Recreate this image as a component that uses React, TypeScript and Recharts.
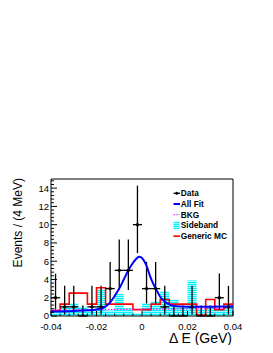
import React from "react";
import {
  ComposedChart,
  XAxis,
  YAxis,
  Line,
  Area,
  Scatter,
  ErrorBar,
  ReferenceArea,
  Customized,
} from "recharts";

// ---- data ----
const binWidth = 0.004;
const binCenters = [
  -0.038, -0.034, -0.03, -0.026, -0.022, -0.018, -0.014, -0.01, -0.006, -0.002,
  0.002, 0.006, 0.01, 0.014, 0.018, 0.022, 0.026, 0.03, 0.034, 0.038,
];
const dataCounts = [2, 1, 1, 0, 1, 1, 3, 5, 5, 10, 3, 3, 1, 0, 0, 1, 0, 0, 2, 1];
const dataErrLow = [1.29, 0.83, 0.83, 0, 0.83, 0.83, 1.63, 2.16, 2.16, 3.11, 1.63, 1.63, 0.83, 0, 0, 0.83, 0, 0, 1.29, 0.83];
const dataErrHigh = [2.64, 2.3, 2.3, 1.15, 2.3, 2.3, 2.92, 3.38, 3.38, 4.27, 2.92, 2.92, 2.3, 1.15, 1.15, 2.3, 1.15, 1.15, 2.64, 2.3];
const genericMC = [0.6, 1.3, 2.5, 2.5, 1.3, 3.1, 1.3, 1.3, 1.3, 0.7, 0.7, 1.3, 1.8, 1.3, 1.3, 1.3, 0.1, 1.8, 0.7, 1.3];
const sideband = [0.6, 1.0, 1.4, 1.0, 0.65, 2.9, 0.6, 2.4, 0.85, 0.3, 1.4, 1.6, 2.7, 1.8, 1.1, 3.9, 0.7, 1.0, 0.7, 1.1];

const fitX = [-0.04, -0.03, -0.024, -0.02, -0.018, -0.016, -0.014, -0.012, -0.01, -0.008, -0.006, -0.004, -0.002, -0.001, 0.0, 0.001, 0.002, 0.0035, 0.005, 0.006, 0.008, 0.01, 0.0125, 0.015, 0.02, 0.03, 0.04];
const fitY = [0.5, 0.56, 0.62, 0.72, 0.82, 1.05, 1.5, 2.2, 3.0, 4.0, 5.0, 5.8, 6.4, 6.5, 6.35, 6.0, 5.5, 4.4, 3.5, 3.05, 2.1, 1.55, 1.2, 1.07, 1.02, 1.02, 1.06];
const bkgX = [-0.04, 0.04];
const bkgY = [0.65, 0.82];

const xMajorTicks = [-0.04, -0.02, 0, 0.02, 0.04];
const xTickLabels = ["-0.04", "-0.02", "0", "0.02", "0.04"];
const xMinorTicks = [-0.036, -0.032, -0.028, -0.024, -0.016, -0.012, -0.008, -0.004, 0.004, 0.008, 0.012, 0.016, 0.024, 0.028, 0.032, 0.036];
const yMajorTicks = [0, 2, 4, 6, 8, 10, 12, 14];
const yTickLabels = ["0", "2", "4", "6", "8", "10", "12", "14"];
const yMinorTicks = [0.4, 0.8, 1.2, 1.6, 2.4, 2.8, 3.2, 3.6, 4.4, 4.8, 5.2, 5.6, 6.4, 6.8, 7.2, 7.6, 8.4, 8.8, 9.2, 9.6, 10.4, 10.8, 11.2, 11.6, 12.4, 12.8, 13.2, 13.6, 14.4, 14.8];

const legendItems = ["Data", "All Fit", "BKG", "Sideband", "Generic MC"];
const xTitle = "Δ E (GeV)";
const yTitle = "Events / (4 MeV)";

// ---- derived tables ----
const stepTable = (vals: number[]) => {
  const rows = binCenters.map((c, i) => ({ x: c - binWidth / 2, y: vals[i] }));
  rows.push({ x: binCenters[binCenters.length - 1] + binWidth / 2, y: vals[vals.length - 1] });
  return rows;
};
const mcRows = stepTable(genericMC);
const sbRows = stepTable(sideband);
const fitRows = fitX.map((x, i) => ({ x, y: fitY[i] }));
const bkgRows = bkgX.map((x, i) => ({ x, y: bkgY[i] }));
const dataRows = binCenters.map((c, i) => ({
  x: c,
  y: dataCounts[i],
  ex: binWidth / 2,
  ey: [dataErrLow[i], dataErrHigh[i]],
}));

const FONT = "'Liberation Sans', Arial, Helvetica, sans-serif";
const near = (a: number, b: number) => Math.abs(a - b) < 1e-9;

const XTick = (props: any) => {
  const { x, y, payload } = props;
  const idx = xMajorTicks.findIndex((m) => near(m, payload.value));
  const major = idx >= 0;
  return (
    <g>
      <line x1={x} x2={x} y1={y} y2={y - (major ? 5 : 2.5)} stroke="#000" strokeWidth={1} />
      {major && (
        <text x={x} y={y + 13.5} textAnchor="middle" fontSize={9.5} fontFamily={FONT} fill="#000">
          {xTickLabels[idx]}
        </text>
      )}
    </g>
  );
};

const YTick = (props: any) => {
  const { x, y, payload } = props;
  const idx = yMajorTicks.findIndex((m) => near(m, payload.value));
  const major = idx >= 0;
  return (
    <g>
      <line x1={x} x2={x + (major ? 6 : 3)} y1={y} y2={y} stroke="#000" strokeWidth={1} />
      {major && (
        <text x={x - 2} y={y + 3.4} textAnchor="end" fontSize={9.5} fontFamily={FONT} fill="#000">
          {yTickLabels[idx]}
        </text>
      )}
    </g>
  );
};

const DataDot = (props: any) => {
  const { cx, cy } = props;
  return <circle cx={cx} cy={cy} r={1.7} fill="#000" />;
};

const Overlay = () => {
  const rowY = [185.3, 196, 206.7, 217.4, 228.2];
  const ix0 = 165.5;
  const ix1 = 172;
  const tx = 172.8;
  return (
    <g fontFamily={FONT}>
      <text
        x={14}
        y={170}
        transform="rotate(-90, 14, 170)"
        textAnchor="end"
        fontSize={12}
        fill="#000"
      >
        {yTitle}
      </text>
      <text x={224} y={335} textAnchor="end" fontSize={14} fill="#000">
        {xTitle}
      </text>
      {/* legend */}
      <line x1={ix0} x2={ix1} y1={rowY[0]} y2={rowY[0]} stroke="#000" strokeWidth={1.3} />
      <circle cx={(ix0 + ix1) / 2} cy={rowY[0]} r={1.5} fill="#000" />
      <line x1={ix0} x2={ix1} y1={rowY[1]} y2={rowY[1]} stroke="#0000ff" strokeWidth={2} />
      <line x1={ix0} x2={ix1} y1={rowY[2]} y2={rowY[2]} stroke="#ff00ff" strokeWidth={1} strokeDasharray="1.5 1.5" />
      <rect x={ix0} y={rowY[3] - 4} width={6} height={8} fill="url(#sbHatch)" />
      <line x1={ix0} x2={ix1} y1={rowY[4]} y2={rowY[4]} stroke="#ff0000" strokeWidth={1.6} />
      {legendItems.map((t, i) => (
        <text key={t} x={tx} y={rowY[i] + 3} fontSize={8.3} fontWeight="bold" fill="#000">
          {t}
        </text>
      ))}
    </g>
  );
};

export default function App() {
  return (
    <div style={{ width: 257, height: 337 }}>
      <style>{"svg.recharts-surface{overflow:visible}"}</style>
      <ComposedChart
        width={257}
        height={337}
        margin={{ top: 171, right: 32, bottom: 9, left: 23 }}
      >
        <defs>
          <pattern id="sbHatch" width={4} height={2} patternUnits="userSpaceOnUse">
            <rect x={0} y={0} width={4} height={2} fill="#c8ffff" />
            <rect x={0} y={0} width={4} height={1.2} fill="#00f0ff" />
          </pattern>
        </defs>
        <XAxis
          dataKey="x"
          type="number"
          domain={[-0.04, 0.04]}
          allowDataOverflow
          ticks={[...xMajorTicks, ...xMinorTicks]}
          interval={0}
          tick={<XTick />}
          tickLine={false}
          axisLine={false}
          tickSize={0}
          tickMargin={0}
          height={20}
        />
        <YAxis
          type="number"
          domain={[0, 15]}
          allowDataOverflow
          ticks={[...yMajorTicks, ...yMinorTicks]}
          interval={0}
          tick={<YTick />}
          tickLine={false}
          axisLine={false}
          tickSize={0}
          tickMargin={0}
          width={20}
        />
        <Area
          data={sbRows}
          dataKey="y"
          type="stepAfter"
          fill="url(#sbHatch)"
          fillOpacity={1}
          stroke="none"
          isAnimationActive={false}
        />
        <Line
          data={mcRows}
          dataKey="y"
          type="stepAfter"
          stroke="#ff0000"
          strokeWidth={1.6}
          dot={false}
          isAnimationActive={false}
        />
        <Line
          data={bkgRows}
          dataKey="y"
          type="linear"
          stroke="#ff00ff"
          strokeWidth={1}
          strokeDasharray="1.5 1.5"
          dot={false}
          isAnimationActive={false}
        />
        <Scatter data={dataRows} dataKey="y" shape={<DataDot />} isAnimationActive={false}>
          <ErrorBar dataKey="ey" direction="y" width={0} stroke="#000" strokeWidth={1.3} />
          <ErrorBar dataKey="ex" direction="x" width={0} stroke="#000" strokeWidth={1.3} />
        </Scatter>
        <Line
          data={fitRows}
          dataKey="y"
          type="monotone"
          stroke="#0000ff"
          strokeWidth={2}
          dot={false}
          isAnimationActive={false}
        />
        <ReferenceArea
          x1={-0.04}
          x2={0.04}
          y1={0}
          y2={15}
          fill="none"
          stroke="#000"
          strokeWidth={1}
          ifOverflow="visible"
        />
        <Customized component={<Overlay />} />
      </ComposedChart>
    </div>
  );
}
